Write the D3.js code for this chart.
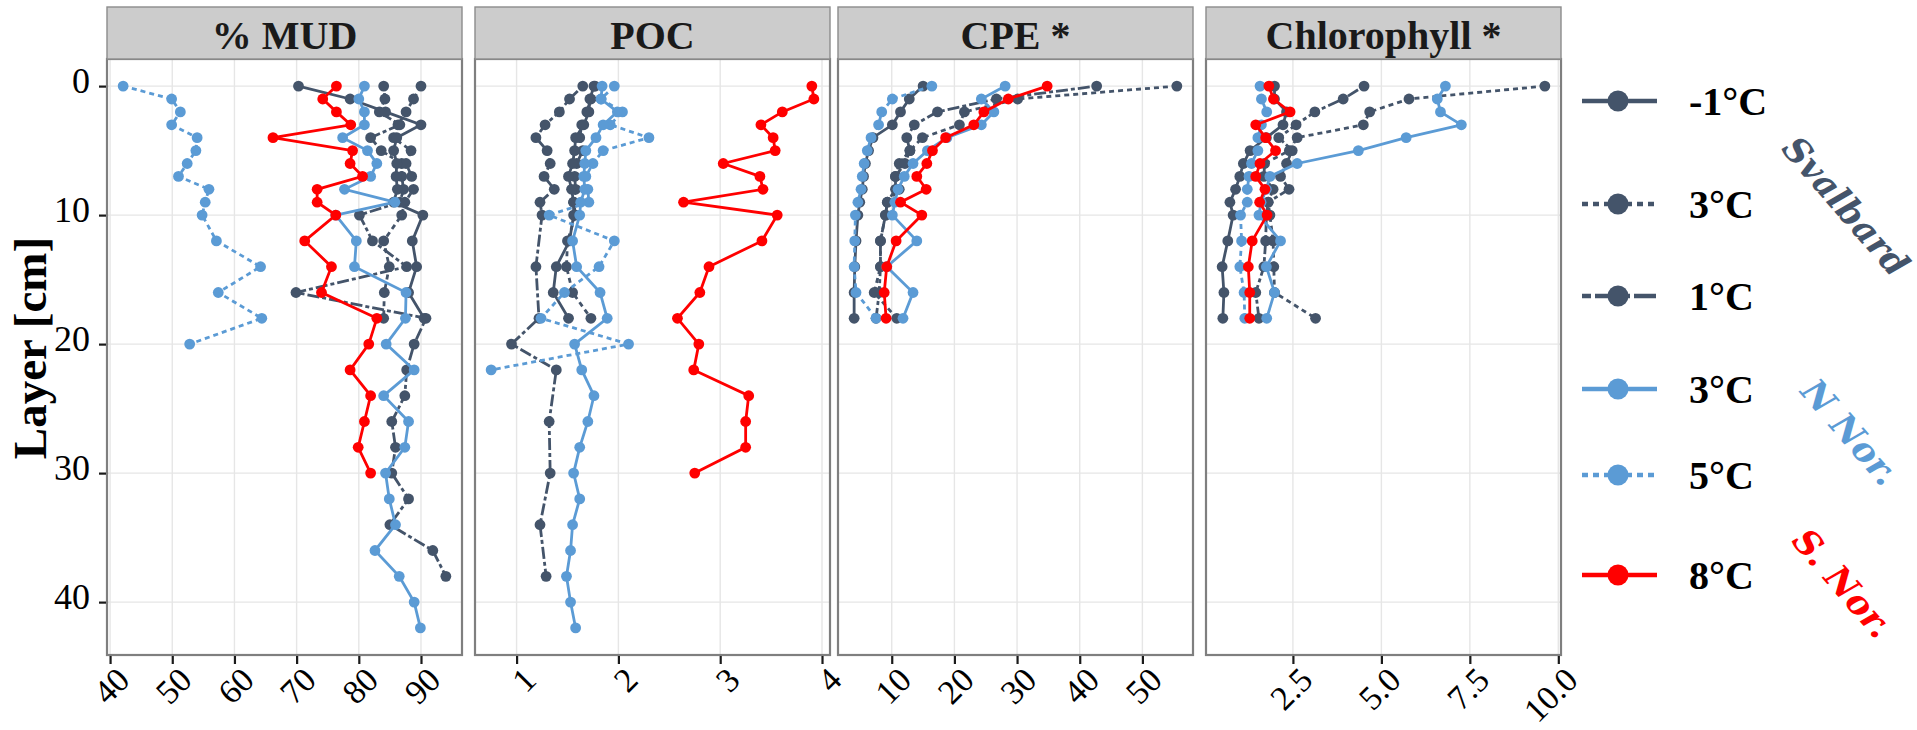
<!DOCTYPE html>
<html><head><meta charset="utf-8">
<script src="https://cdn.jsdelivr.net/npm/d3@7"></script>
<style>body{margin:0;background:#fff} svg{display:block}</style>
</head><body>
<svg id="chart" width="1917" height="730"></svg>
<script>
// ---------------- DATA ----------------
const layers = [0,1,2,3,4,5,6,7,8,9,10,12,14,16,18,20,22,24,26,28,30,32,34,36,38,40,42];
const panelTitles = ["% MUD","POC","CPE *","Chlorophyll *"];
const mudTicks = [40,50,60,70,80,90];
const mudTickLabels = ["40","50","60","70","80","90"];
const pocTicks = [1,2,3,4];
const pocTickLabels = ["1","2","3","4"];
const cpeTicks = [10,20,30,40,50];
const cpeTickLabels = ["10","20","30","40","50"];
const chlTicks = [2.5,5,7.5,10];
const chlTickLabels = ["2.5","5.0","7.5","10.0"];
const depthTicks = [0,10,20,30,40];
const seriesLabels = ["-1°C","3°C","1°C","3°C","5°C","8°C"];
const regionLabels = ["Svalbard","N Nor.","S. Nor."];
const yTitle = "Layer [cm]";

// values aligned with `layers` (null = not measured)
// Svalbard -1°C
const mudSvM1 = [70.3,78.6,84.3,90.0,86.1,85.6,86.1,86.0,86.2,85.6,90.3,88.6,89.3,88.0,90.5];
const pocSvM1 = [1.76,1.72,1.71,1.66,1.58,1.57,1.55,1.51,1.54,1.56,1.56,1.52,1.39,1.36,1.51];
const cpeSvM1 = [15.0,12.8,11.4,10.1,7.0,6.3,5.8,5.5,5.3,4.9,4.6,4.3,4.1,4.0,4.0];
const chlSvM1 = [1.98,1.98,2.32,2.22,1.75,1.29,1.10,1.00,0.88,0.72,0.81,0.66,0.50,0.55,0.52];
// Svalbard 3°C
const mudSv3 = [90.0,88.8,87.6,86.3,85.6,88.4,87.6,88.5,88.8,87.4,86.9,84.0,84.9,84.1,84.0];
const pocSv3 = [1.77,1.73,1.69,1.64,1.62,1.65,1.59,1.57,1.58,1.56,1.58,1.50,1.49,1.55,1.73];
const cpeSv3 = [55.5,30.1,21.6,20.8,14.9,12.9,12.1,10.6,11.2,9.3,9.0,8.2,8.2,7.2,10.8];
const chlSv3 = [9.62,5.78,4.67,4.49,2.62,2.40,1.70,1.68,1.94,1.80,1.85,1.94,1.96,1.98,3.14];
// Svalbard 1°C
const mudSv1 = [84.0,84.2,83.3,86.6,81.9,83.6,86.9,86.9,87.2,86.6,80.1,82.2,87.7,69.9,90.8,88.9,87.7,87.4,85.3,85.9,85.3,88.0,85.0,91.9,94.0];
const pocSv1 = [1.65,1.52,1.42,1.28,1.19,1.30,1.33,1.27,1.37,1.23,1.25,null,1.19,null,1.22,0.95,1.39,null,1.32,null,1.33,null,1.23,null,1.29];
const cpeSv1 = [42.7,26.7,17.3,13.6,12.4,12.9,11.2,10.6,10.6,9.3,9.0,8.2,8.2,8.0,7.5];
const chlSv1 = [4.51,3.92,3.12,2.59,2.10,2.48,2.32,2.15,2.39,1.80,1.75,1.73,1.68,1.45,1.54];
// N Nor. 3°C
const mudNn3 = [80.9,80.0,80.9,80.9,77.4,81.4,82.9,81.9,77.7,85.8,76.3,79.6,79.3,87.6,87.5,84.4,88.9,84.0,88.0,87.4,84.3,84.9,85.9,82.6,86.5,88.9,89.9];
const pocNn3 = [1.84,1.83,1.99,1.85,1.78,1.68,1.67,1.66,1.67,1.63,1.62,1.55,1.59,1.82,1.89,1.57,1.64,1.76,1.70,1.62,1.56,1.62,1.55,1.53,1.49,1.53,1.58];
const cpeNn3 = [28.1,24.3,26.3,24.3,18.8,15.7,13.4,12.0,11.0,10.5,10.1,14.0,9.2,13.4,11.8];
const chlNn3 = [6.81,6.58,6.67,7.26,5.70,4.35,2.62,1.85,1.75,1.60,1.54,2.15,1.75,1.98,1.76];
// N Nor. 5°C
const mudNn5 = [42.1,49.9,51.3,49.9,54.0,53.8,52.4,51.0,55.9,55.3,54.8,57.1,64.2,57.4,64.4,52.8];
const pocNn5 = [1.96,1.83,2.04,1.92,2.30,1.85,1.75,1.68,1.70,1.71,1.32,1.96,1.81,1.47,1.24,2.10,0.75];
const cpeNn5 = [16.4,10.1,8.4,7.9,6.7,6.1,5.6,5.3,5.1,4.6,4.2,4.1,4.0,4.3,7.5];
const chlNn5 = [1.57,1.61,1.76,1.61,1.51,1.51,1.33,1.26,1.21,1.21,1.02,1.05,1.00,1.12,1.14];
// S. Nor. 8°C
const mudSn8 = [76.4,74.2,76.4,78.7,66.2,79.0,78.6,80.6,73.3,73.3,76.3,71.3,75.6,74.0,82.9,81.6,78.6,81.9,80.9,79.9,81.9];
const pocSn8 = [3.90,3.92,3.61,3.40,3.52,3.54,3.03,3.39,3.42,2.64,3.56,3.41,2.89,2.80,2.58,2.79,2.74,3.28,3.25,3.25,2.75];
const cpeSn8 = [34.8,28.6,24.7,23.1,18.6,16.5,15.6,14.0,15.5,11.4,14.8,10.7,9.2,8.8,9.1];
const chlSn8 = [1.82,1.95,2.42,1.45,1.73,2.01,1.57,1.45,1.71,1.56,1.77,1.35,1.24,1.28,1.28];

// ---------------- STYLE / LAYOUT ----------------
const NAVY = "#44546A", LBLUE = "#5B9BD5", RED = "#FF0000";
const seriesStyle = [
  {color: NAVY, dash: null},
  {color: NAVY, dash: "5,4"},
  {color: NAVY, dash: "4,3,12,3"},
  {color: LBLUE, dash: null},
  {color: LBLUE, dash: "5,4"},
  {color: RED, dash: null}
];
const drawOrder = [2,1,0,4,3,5];
const panels = [
  {title: panelTitles[0], ticks: mudTicks, labels: mudTickLabels, series: [mudSvM1,mudSv3,mudSv1,mudNn3,mudNn5,mudSn8]},
  {title: panelTitles[1], ticks: pocTicks, labels: pocTickLabels, series: [pocSvM1,pocSv3,pocSv1,pocNn3,pocNn5,pocSn8]},
  {title: panelTitles[2], ticks: cpeTicks, labels: cpeTickLabels, series: [cpeSvM1,cpeSv3,cpeSv1,cpeNn3,cpeNn5,cpeSn8]},
  {title: panelTitles[3], ticks: chlTicks, labels: chlTickLabels, series: [chlSvM1,chlSv3,chlSv1,chlNn3,chlNn5,chlSn8]}
];
const panelLeft = [107, 475, 838, 1206];
const panelW = 355, panelTop = 59, panelBottom = 655, stripTop = 7;
const SERIF = "'Liberation Serif', 'DejaVu Serif', serif";

const svg = d3.select("#chart");
svg.append("rect").attr("width",1917).attr("height",730).attr("fill","#fff");

const y = d3.scaleLinear().domain([-2.1, 44.1]).range([panelTop, panelBottom]);

panels.forEach((p, pi) => {
  const x0 = panelLeft[pi];
  const all = p.series.flat().filter(v => v != null);
  const [mn, mx] = d3.extent(all);
  const pad = (mx - mn) * 0.05;
  const x = d3.scaleLinear().domain([mn - pad, mx + pad]).range([x0, x0 + panelW]);
  const g = svg.append("g");

  g.append("rect").attr("x", x0).attr("y", panelTop).attr("width", panelW).attr("height", panelBottom - panelTop).attr("fill", "#fff");
  g.selectAll(".vg").data(p.ticks).join("line")
    .attr("x1", d => x(d)).attr("x2", d => x(d)).attr("y1", panelTop).attr("y2", panelBottom)
    .attr("stroke", "#E6E6E6").attr("stroke-width", 1.4);
  g.selectAll(".hg").data(depthTicks).join("line")
    .attr("x1", x0).attr("x2", x0 + panelW).attr("y1", d => y(d)).attr("y2", d => y(d))
    .attr("stroke", "#E6E6E6").attr("stroke-width", 1.4);

  drawOrder.forEach(si => {
    const st = seriesStyle[si];
    const pts = p.series[si].map((v, i) => ({d: layers[i], v})).filter(o => o.v != null);
    const line = d3.line().x(o => x(o.v)).y(o => y(o.d));
    g.append("path").datum(pts).attr("d", line).attr("fill", "none")
      .attr("stroke", st.color).attr("stroke-width", 2.8)
      .attr("stroke-dasharray", st.dash);
    g.selectAll(null).data(pts).join("circle")
      .attr("cx", o => x(o.v)).attr("cy", o => y(o.d)).attr("r", 5.4).attr("fill", st.color);
  });

  g.append("rect").attr("x", x0).attr("y", panelTop).attr("width", panelW).attr("height", panelBottom - panelTop)
    .attr("fill", "none").attr("stroke", "#7F7F7F").attr("stroke-width", 2.2);
  g.append("rect").attr("x", x0).attr("y", stripTop).attr("width", panelW).attr("height", panelTop - stripTop)
    .attr("fill", "#CCCCCC").attr("stroke", "#8C8C8C").attr("stroke-width", 1.4);
  g.append("text").attr("x", x0 + panelW / 2).attr("y", 49).attr("text-anchor", "middle")
    .attr("font-family", SERIF).attr("font-weight", "bold").attr("font-size", 40).attr("fill", "#1A1A1A")
    .text(p.title);

  const ax = d3.axisBottom(x).tickValues(p.ticks).tickFormat((d, i) => p.labels[i]).tickSize(8).tickSizeOuter(0);
  const axg = svg.append("g").attr("transform", `translate(0,${panelBottom + 1})`).call(ax);
  axg.select(".domain").remove();
  axg.selectAll(".tick line").attr("stroke", "#1A1A1A").attr("stroke-width", 2.2);
  axg.selectAll(".tick text").attr("y", null).attr("dy", null)
    .attr("transform", "translate(21,26) rotate(-45)").attr("text-anchor", "end")
    .attr("font-family", SERIF).attr("font-size", 34).attr("fill", "#000");

  if (pi === 0) {
    const ay = d3.axisLeft(y).tickValues(depthTicks).tickSize(7).tickPadding(9);
    const ayg = svg.append("g").attr("transform", `translate(${x0 - 1},0)`).call(ay);
    ayg.select(".domain").remove();
    ayg.selectAll(".tick line").attr("stroke", "#1A1A1A").attr("stroke-width", 2.2);
    ayg.selectAll(".tick text").attr("dy", 6).attr("font-family", SERIF).attr("font-size", 36).attr("fill", "#000");
  }
});

svg.append("text").attr("transform", "translate(30,348) rotate(-90)").attr("text-anchor", "middle")
  .attr("dominant-baseline", "central")
  .attr("font-family", SERIF).attr("font-weight", "bold").attr("font-size", 47).attr("fill", "#000")
  .text(yTitle);

const legendY = [101, 204, 296, 389, 475, 575];
const lg = svg.append("g");
seriesStyle.forEach((st, i) => {
  const yy = legendY[i];
  lg.append("line").attr("x1", 1582).attr("x2", 1657).attr("y1", yy).attr("y2", yy)
    .attr("stroke", st.color).attr("stroke-width", 4.5)
    .attr("stroke-dasharray", st.dash ? (i === 2 ? "9,4,22,4" : "6,5") : null);
  lg.append("circle").attr("cx", 1618).attr("cy", yy).attr("r", 10.5).attr("fill", st.color);
  lg.append("text").attr("x", 1689).attr("y", yy + 14)
    .attr("font-family", SERIF).attr("font-weight", "bold").attr("font-size", 40).attr("fill", "#000")
    .text(seriesLabels[i]);
});
const regionPos = [[1846, 206, NAVY], [1850, 432, LBLUE], [1843, 583, RED]];
regionLabels.forEach((t, i) => {
  const [rx, ry, c] = regionPos[i];
  svg.append("text").attr("transform", `translate(${rx},${ry}) rotate(49)`)
    .attr("text-anchor", "middle").attr("dominant-baseline", "central")
    .attr("font-family", "'DejaVu Serif', serif").attr("font-weight", "bold").attr("font-style", "italic")
    .attr("font-size", 35).attr("fill", c).text(t);
});
</script>
</body></html>
